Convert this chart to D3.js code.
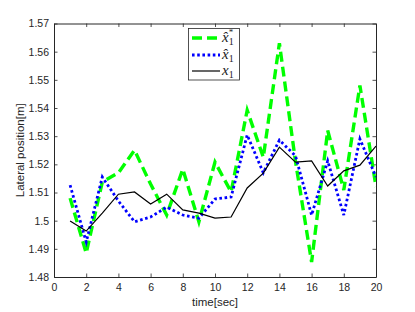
<!DOCTYPE html>
<html><head><meta charset="utf-8">
<script src="https://cdn.jsdelivr.net/npm/d3@7"></script>
<style>body{margin:0;background:#fff}</style>
</head><body>
<svg id="c" width="415" height="312"></svg>
<script>
const times = [1,2,3,4,5,6,7,8,9,10,11,12,13,14,15,16,17,18,19,20];
const xHatStar = [1.508,1.4885,1.5137,1.517,1.525,1.513,1.502,1.5183,1.4996,1.5208,1.5102,1.5392,1.5225,1.563,1.521,1.4853,1.532,1.5109,1.548,1.512];
const xHat = [1.5126,1.4924,1.5155,1.507,1.4996,1.5013,1.5048,1.502,1.5009,1.5077,1.5084,1.5304,1.517,1.5286,1.523,1.502,1.5212,1.502,1.529,1.5155];
const xTrue = [1.4999,1.4963,1.5027,1.5094,1.5102,1.5059,1.5094,1.5038,1.5027,1.5009,1.5013,1.5116,1.5169,1.5261,1.5208,1.5212,1.5123,1.5177,1.5197,1.5265];
const xTicks = [0,2,4,6,8,10,12,14,16,18,20];
const yTicks = [1.48,1.49,1.5,1.51,1.52,1.53,1.54,1.55,1.56,1.57];

const svg = d3.select("#c");
const L=54, R=376, T=23.5, B=277;
const x = d3.scaleLinear().domain([0,20]).range([L,R]);
const y = d3.scaleLinear().domain([1.48,1.57]).range([B,T]);
const axCol = "#262626";
const font = "'Liberation Sans', Arial, sans-serif";

function styleAxis(g){
  g.select(".domain").attr("stroke", axCol).attr("stroke-width", 1);
  g.selectAll(".tick line").attr("stroke", axCol).attr("stroke-width", 0.8);
  g.selectAll(".tick text").attr("fill", axCol).attr("font-family", font).attr("font-size", 10.5);
}
const fmtY = d => d3.format("")(+d.toFixed(2));
svg.append("g").attr("transform",`translate(0,${B})`)
  .call(d3.axisBottom(x).tickValues(xTicks).tickSize(-3.5).tickSizeOuter(0).tickPadding(7))
  .call(styleAxis);
svg.append("g").attr("transform",`translate(0,${T})`)
  .call(d3.axisTop(x).tickValues(xTicks).tickSize(-3.5).tickSizeOuter(0).tickFormat(""))
  .call(styleAxis);
svg.append("g").attr("transform",`translate(${L},0)`)
  .call(d3.axisLeft(y).tickValues(yTicks).tickSize(-3.5).tickSizeOuter(0).tickPadding(5).tickFormat(fmtY))
  .call(styleAxis);
svg.append("g").attr("transform",`translate(${R},0)`)
  .call(d3.axisRight(y).tickValues(yTicks).tickSize(-3.5).tickSizeOuter(0).tickFormat(""))
  .call(styleAxis);

const line = d3.line().x((d,i)=>x(times[i])).y(d=>y(d));
const series = [
  {data:xHatStar, color:"#00ff00", w:3.4, dash:"10,5"},
  {data:xHat, color:"#0000ff", w:2.8, dash:"2.6,2.6"},
  {data:xTrue, color:"#000000", w:1.2, dash:null}
];
svg.append("clipPath").attr("id","clp").append("rect")
  .attr("x",L).attr("y",T).attr("width",R-L).attr("height",B-T);
series.forEach(s=>{
  svg.append("path").attr("d", line(s.data)).attr("fill","none")
    .attr("stroke", s.color).attr("stroke-width", s.w)
    .attr("stroke-dasharray", s.dash).attr("stroke-linejoin","miter")
    .attr("clip-path","url(#clp)");
});

// axis labels
svg.append("text").attr("x", (L+R)/2).attr("y", 306).attr("text-anchor","middle")
  .attr("font-family", font).attr("font-size", 11.5).attr("fill", axCol).text("time[sec]");
svg.append("text").attr("transform",`translate(24,${(T+B)/2}) rotate(-90)`).attr("text-anchor","middle")
  .attr("font-family", font).attr("font-size", 11.5).attr("fill", axCol).text("Lateral position[m]");

// legend
const lg = svg.append("g");
lg.append("rect").attr("x",188.5).attr("y",28.5).attr("width",51).attr("height",51.5)
  .attr("fill","#fff").attr("stroke","#262626").attr("stroke-width",0.8);
const lgItems = [
  {s:series[0], yy:38, star:true, hat:true},
  {s:series[1], yy:55, star:false, hat:true},
  {s:series[2], yy:71, star:false, hat:false}
];
lgItems.forEach(it=>{
  lg.append("line").attr("x1",192).attr("x2",220).attr("y1",it.yy).attr("y2",it.yy)
    .attr("stroke",it.s.color).attr("stroke-width",it.s.w).attr("stroke-dasharray",it.s.dash);
  const t = lg.append("text").attr("x",222).attr("y",it.yy+3.5).attr("font-family","'Liberation Serif', serif")
    .attr("font-size",15).attr("font-style","italic").attr("fill","#222");
  t.append("tspan").text(it.hat ? "x\u0302" : "x");
  t.append("tspan").attr("font-size",10).attr("font-style","normal").attr("dy",3.5).text("1");
  if(it.star){
    t.append("tspan").attr("font-size",9).attr("font-style","normal").attr("dx",-5).attr("dy",-10).text("*");
  }
});
</script>
</body></html>
